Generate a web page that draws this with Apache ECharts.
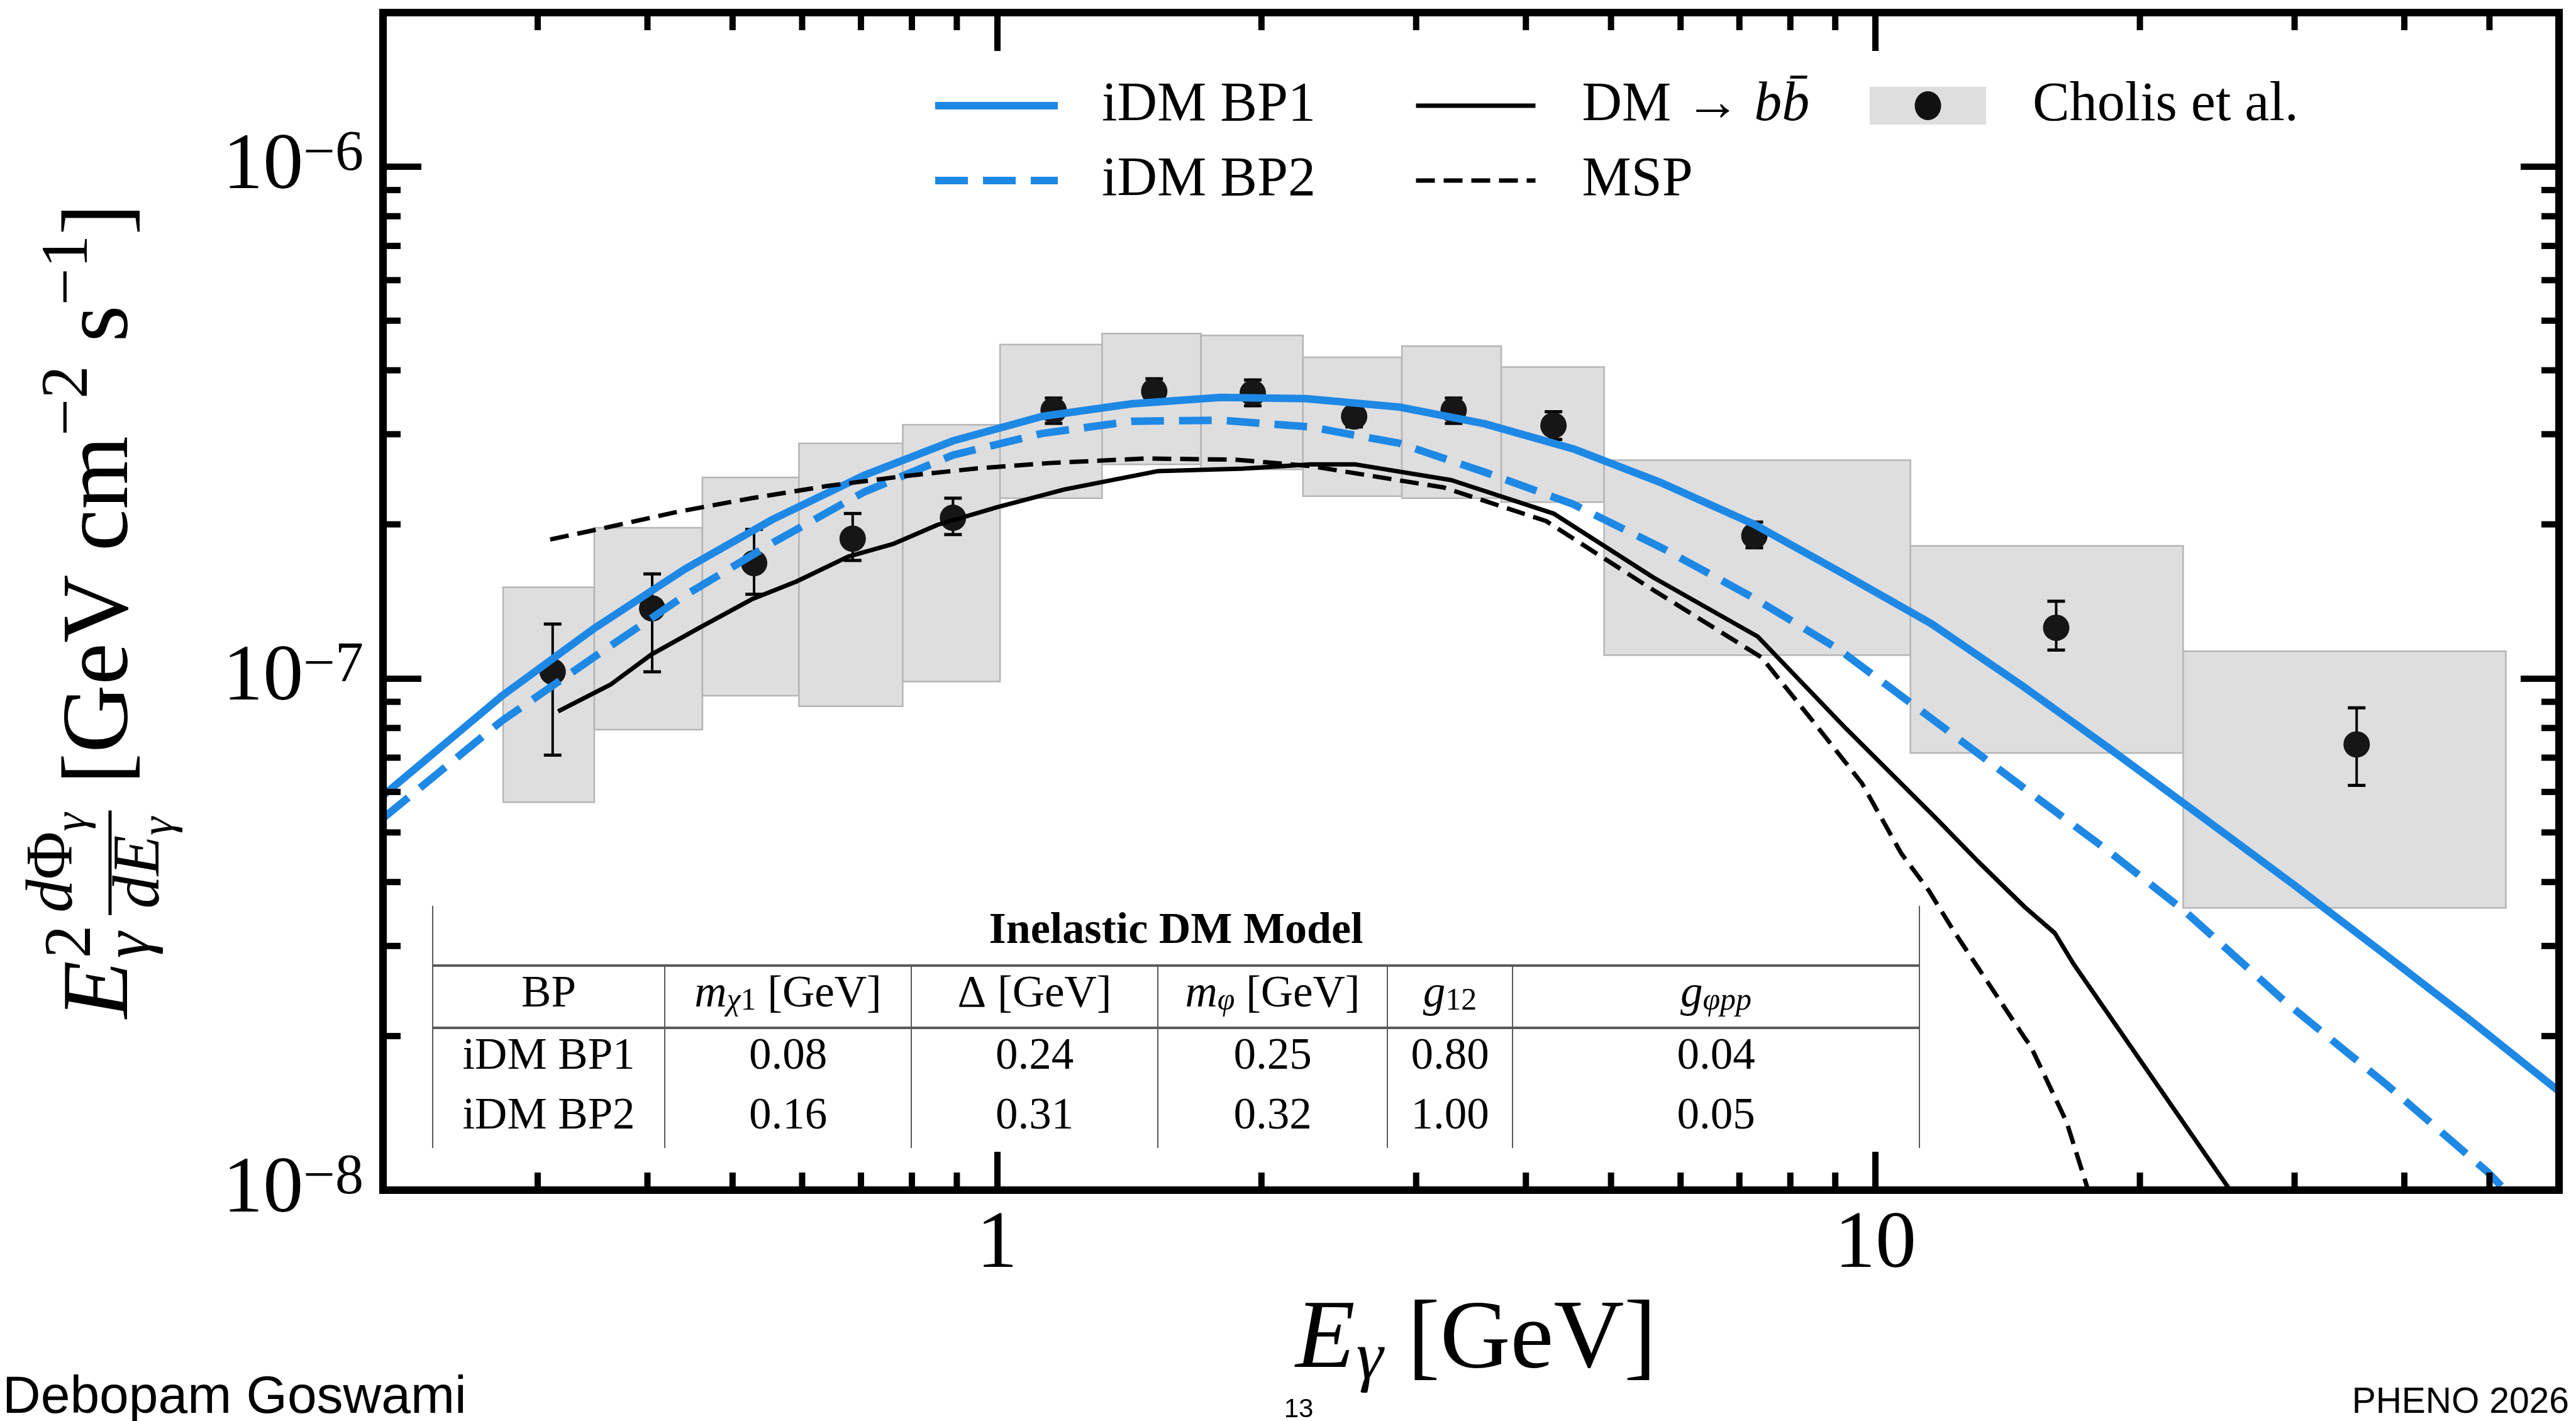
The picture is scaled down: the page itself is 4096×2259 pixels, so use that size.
<!DOCTYPE html>
<html>
<head>
<meta charset="utf-8">
<script src="https://cdn.jsdelivr.net/npm/echarts@6/dist/echarts.min.js"></script>
<style>
html, body { margin: 0; padding: 0; background: #fff; }
#chart { width: 4096px; height: 2259px; }
</style>
</head>
<body>
<div id="chart"></div>
<script>
var SERIF = '"Liberation Serif", "DejaVu Serif", serif';
var SANS = '"Liberation Sans", Arial, sans-serif';
var BB = 'DM \u2192 bb\u0304';

// Cholis et al. points (E in GeV, E^2 dPhi/dE)
var pointE = [0.312, 0.405, 0.529, 0.685, 0.891, 1.16, 1.51, 1.955, 2.55, 3.31, 4.30, 7.28, 16.06, 35.3];
var pointF = [1.03e-7, 1.37e-7, 1.68e-7, 1.875e-7, 2.06e-7, 3.34e-7, 3.64e-7, 3.61e-7, 3.25e-7, 3.34e-7, 3.12e-7, 1.90e-7, 1.256e-7, 7.43e-8];
var errLo = [7.08e-8, 1.03e-7, 1.46e-7, 1.70e-7, 1.91e-7, 3.15e-7, 3.49e-7, 3.41e-7, 3.10e-7, 3.15e-7, 2.93e-7, 1.80e-7, 1.136e-7, 6.18e-8];
var errHi = [1.277e-7, 1.60e-7, 1.955e-7, 2.10e-7, 2.25e-7, 3.53e-7, 3.85e-7, 3.83e-7, 3.37e-7, 3.53e-7, 3.32e-7, 2.02e-7, 1.415e-7, 8.76e-8];
// systematic boxes
var binEdges = [0.274, 0.348, 0.462, 0.595, 0.781, 1.008, 1.317, 1.707, 2.23, 2.89, 3.75, 4.91, 10.96, 22.4, 52.2];
var boxLo = [5.73e-8, 7.94e-8, 9.25e-8, 8.82e-8, 9.86e-8, 2.25e-7, 2.62e-7, 2.56e-7, 2.27e-7, 2.25e-7, 2.21e-7, 1.11e-7, 7.15e-8, 3.56e-8];
var boxHi = [1.507e-7, 1.97e-7, 2.47e-7, 2.88e-7, 3.13e-7, 4.49e-7, 4.72e-7, 4.68e-7, 4.24e-7, 4.46e-7, 4.06e-7, 2.67e-7, 1.815e-7, 1.13e-7];

// model curves
var bp1E = [0.2, 0.2733, 0.3487, 0.4406, 0.5569, 0.7045, 0.890, 1.125, 1.422, 1.797, 2.248, 2.871, 3.589, 4.526, 5.709, 7.275, 9.08, 11.57, 14.75, 18.41, 22.53, 29.89, 37.8, 47.5, 60];
var bp1F = [5.9e-8, 9.25e-8, 1.256e-7, 1.633e-7, 2.05e-7, 2.49e-7, 2.91e-7, 3.25e-7, 3.44e-7, 3.54e-7, 3.52e-7, 3.39e-7, 3.145e-7, 2.81e-7, 2.41e-7, 2.00e-7, 1.62e-7, 1.28e-7, 9.63e-8, 7.32e-8, 5.67e-8, 3.96e-8, 2.91e-8, 2.15e-8, 1.56e-8];
var bp2E = [0.2, 0.2733, 0.3487, 0.4406, 0.5569, 0.7045, 0.890, 1.125, 1.422, 1.797, 2.272, 2.871, 3.589, 4.526, 5.709, 7.275, 9.08, 11.57, 14.75, 18.41, 22.53, 25.68, 29.3, 38.3, 49.9, 53.0];
var bp2F = [5.33e-8, 8.27e-8, 1.104e-7, 1.45e-7, 1.845e-7, 2.31e-7, 2.73e-7, 3.01e-7, 3.18e-7, 3.195e-7, 3.10e-7, 2.88e-7, 2.53e-7, 2.19e-7, 1.80e-7, 1.435e-7, 1.14e-7, 8.36e-8, 6.11e-8, 4.60e-8, 3.50e-8, 2.86e-8, 2.33e-8, 1.60e-8, 1.08e-8, 9.7e-9];
var bbE = [0.3165, 0.363, 0.404, 0.4585, 0.5256, 0.591, 0.677, 0.761, 0.856, 1.0, 1.193, 1.522, 1.905, 2.272, 2.554, 3.29, 4.30, 5.59, 7.34, 9.27, 11.68, 13.1, 14.8, 16.0, 16.8, 26.2];
var bbF = [8.62e-8, 9.72e-8, 1.113e-7, 1.256e-7, 1.427e-7, 1.546e-7, 1.73e-7, 1.83e-7, 1.996e-7, 2.16e-7, 2.34e-7, 2.54e-7, 2.57e-7, 2.62e-7, 2.62e-7, 2.44e-7, 2.10e-7, 1.574e-7, 1.208e-7, 7.96e-8, 5.36e-8, 4.38e-8, 3.57e-8, 3.18e-8, 2.77e-8, 9.2e-9];
var mspE = [0.310, 0.356, 0.4325, 0.5256, 0.639, 0.777, 0.944, 1.147, 1.479, 1.868, 2.272, 3.227, 4.217, 5.59, 7.42, 8.55, 9.65, 10.7, 11.5, 12.29, 14.8, 15.0, 16.5, 17.4, 17.6];
var mspF = [1.868e-7, 1.965e-7, 2.115e-7, 2.25e-7, 2.375e-7, 2.48e-7, 2.57e-7, 2.635e-7, 2.69e-7, 2.675e-7, 2.60e-7, 2.36e-7, 2.03e-7, 1.487e-7, 1.099e-7, 8.12e-8, 6.24e-8, 4.55e-8, 3.85e-8, 3.2e-8, 1.98e-8, 1.92e-8, 1.36e-8, 1.02e-8, 9.5e-9];

// axes
var xMin = 0.2, xMax = 60, yMin = 1e-8, yMax = 2e-6;
var xMinor = [0.3, 0.4, 0.5, 0.6, 0.7, 0.8, 0.9, 2, 3, 4, 5, 6, 7, 8, 9, 20, 30, 40, 50];
var yMinor = [2e-8, 3e-8, 4e-8, 5e-8, 6e-8, 7e-8, 8e-8, 9e-8, 2e-7, 3e-7, 4e-7, 5e-7, 6e-7, 7e-7, 8e-7, 9e-7];

// table
var tableTitle = 'Inelastic DM Model';
var tableHead = ['BP', '{i|m}{sb|\u03c7}{sr|1}{r| [GeV]}', '{r|\u0394 [GeV]}', '{i|m}{sb|\u03c6}{r| [GeV]}', '{i|g}{sr|12}', '{i|g}{sb|\u03c6pp}'];
var tableRows = [
	['iDM BP1', '0.08', '0.24', '0.25', '0.80', '0.04'],
	['iDM BP2', '0.16', '0.31', '0.32', '1.00', '0.05']
];

function zip(a, b) {
	return a.map(function (v, i) { return [v, b[i]]; });
}

var boxData = boxLo.map(function (lo, i) { return [binEdges[i], binEdges[i + 1], lo, boxHi[i]]; });
var errData = pointE.map(function (e, i) { return [e, errLo[i], errHi[i]]; });

var chart = echarts.init(document.getElementById('chart'));

// ---- text helpers for math-like titles
var measure = document.createElement('canvas').getContext('2d');
function fnt(size, it, bold) {
	return (it ? 'italic ' : '') + (bold ? 'bold ' : '') + size + 'px ' + SERIF;
}
function wid(t, size, it) {
	measure.font = fnt(size, it);
	return measure.measureText(t).width;
}
function piece(t, x, base, size, it) {
	return {type: 'text', x: x, y: base - 0.34 * size, style: {text: t, font: fnt(size, it), fill: '#000', align: 'left', verticalAlign: 'middle'}};
}
function runW(list) {
	var w = 0;
	list.forEach(function (p) { w += wid(p[0], p[1], p[2]) + (p[4] || 0); });
	return w;
}
function run(list, x, base, els) {
	list.forEach(function (p) {
		els.push(piece(p[0], x, base + (p[3] || 0), p[1], p[2]));
		x += wid(p[0], p[1], p[2]) + (p[4] || 0);
	});
	return x;
}

// y title: E^2_g dPhi_g/dE_g [GeV cm^-2 s^-1]
var yt = [], S = 150, s = 105, ss = 74;
var cx = run([['E', S, true, 0, 4]], 0, 0, yt);
yt.push(piece('2', cx, -0.42 * S, s, false));
yt.push(piece('\u03b3', cx, 0.2 * S, s, true));
cx += Math.max(wid('2', s, false), wid('\u03b3', s, true)) + 12;
var num = [['d', s, true], ['\u03a6', s, false], ['\u03b3', ss, true, 20]];
var den = [['d', s, true], ['E', s, true], ['\u03b3', ss, true, 20]];
var nw = runW(num), dw = runW(den), fw = Math.max(nw, dw) + 16;
run(num, cx + (fw - nw) / 2, -92, yt);
run(den, cx + (fw - dw) / 2, 46, yt);
yt.push({type: 'line', shape: {x1: cx + 4, y1: -39, x2: cx + fw - 4, y2: -39}, style: {stroke: '#000', lineWidth: 5}});
cx += fw;
run([[' [GeV cm', S, false], ['\u22122', s, false, -0.45 * S], [' s', S, false], ['\u22121', s, false, -0.45 * S], [']', S, false]], cx, 0, yt);

// x title: E_g [GeV]
var xt = [];
var xx = run([['E', 155, true, 0, 2]], 0, 0, xt);
xx = run([['\u03b3', 108, true, 14], [' [GeV]', 155, false]], xx, 0, xt);
var xTitleW = xx;

// table graphics
var tL = 688, tR = 3052, tTop = 1440, tH1 = 1535, tH2 = 1634, tBot = 1825;
var colX = [688, 1057, 1449, 1841, 2206, 2405, 3052];
var rowY = [1680, 1775];
var tg = [];
var gray = '#5a5a5a';
tg.push({type: 'line', shape: {x1: tL, y1: tTop, x2: tL, y2: tBot}, style: {stroke: gray, lineWidth: 2}});
tg.push({type: 'line', shape: {x1: tR, y1: tTop, x2: tR, y2: tBot}, style: {stroke: gray, lineWidth: 2}});
tg.push({type: 'line', shape: {x1: tL, y1: tH1, x2: tR, y2: tH1}, style: {stroke: gray, lineWidth: 4}});
tg.push({type: 'line', shape: {x1: tL, y1: tH2, x2: tR, y2: tH2}, style: {stroke: gray, lineWidth: 4}});
for (var c = 1; c < colX.length - 1; c++) {
	tg.push({type: 'line', shape: {x1: colX[c], y1: tH1, x2: colX[c], y2: tBot}, style: {stroke: gray, lineWidth: 2}});
}
tg.push({type: 'text', x: (tL + tR) / 2, y: 1481, style: {text: tableTitle, font: fnt(70, false, true), fill: '#000', align: 'center', verticalAlign: 'middle'}});
var headRich = {
	r: {fontFamily: SERIF, fontSize: 71, lineHeight: 71, color: '#000'},
	i: {fontFamily: SERIF, fontSize: 71, lineHeight: 71, fontStyle: 'italic', color: '#000'},
	sb: {fontFamily: SERIF, fontSize: 50, lineHeight: 27, fontStyle: 'italic', verticalAlign: 'bottom', color: '#000'},
	sr: {fontFamily: SERIF, fontSize: 50, lineHeight: 27, verticalAlign: 'bottom', color: '#000'}
};
tableHead.forEach(function (h, j) {
	tg.push({type: 'text', x: (colX[j] + colX[j + 1]) / 2, y: 1581, style: {text: h, rich: headRich, font: fnt(71), fill: '#000', align: 'center', verticalAlign: 'middle'}});
});
tableRows.forEach(function (row, r) {
	row.forEach(function (v, j) {
		tg.push({type: 'text', x: (colX[j] + colX[j + 1]) / 2, y: rowY[r], style: {text: v, font: fnt(71), fill: '#000', align: 'center', verticalAlign: 'middle'}});
	});
});

// ---- render helpers
function renderBox(params, api) {
	var p0 = api.coord([api.value(0), api.value(3)]);
	var p1 = api.coord([api.value(1), api.value(2)]);
	return {type: 'rect', shape: {x: p0[0], y: p0[1], width: p1[0] - p0[0], height: p1[1] - p0[1]},
		style: {fill: '#dedede', stroke: '#b5b5b5', lineWidth: 2.5}};
}
function renderErr(params, api) {
	var lo = api.coord([api.value(0), api.value(1)]);
	var hi = api.coord([api.value(0), api.value(2)]);
	var cw = 14, st = {stroke: '#000', lineWidth: 5};
	return {type: 'group', children: [
		{type: 'line', shape: {x1: lo[0], y1: lo[1], x2: hi[0], y2: hi[1]}, style: {stroke: '#000', lineWidth: 4}},
		{type: 'line', shape: {x1: lo[0] - cw, y1: lo[1], x2: lo[0] + cw, y2: lo[1]}, style: st},
		{type: 'line', shape: {x1: hi[0] - cw, y1: hi[1], x2: hi[0] + cw, y2: hi[1]}, style: st}
	]};
}
function renderXTick(params, api) {
	var cs = params.coordSys, px = api.coord([api.value(0), yMin])[0], len = 28;
	var st = {stroke: '#000', lineWidth: 10};
	return {type: 'group', children: [
		{type: 'line', shape: {x1: px, y1: cs.y + cs.height, x2: px, y2: cs.y + cs.height - len}, style: st},
		{type: 'line', shape: {x1: px, y1: cs.y, x2: px, y2: cs.y + len}, style: st}
	]};
}
function renderYTick(params, api) {
	var cs = params.coordSys, py = api.coord([xMin, api.value(1)])[1], len = 28;
	var st = {stroke: '#000', lineWidth: 10};
	return {type: 'group', children: [
		{type: 'line', shape: {x1: cs.x, y1: py, x2: cs.x + len, y2: py}, style: st},
		{type: 'line', shape: {x1: cs.x + cs.width, y1: py, x2: cs.x + cs.width - len, y2: py}, style: st}
	]};
}

function isPow10(v) {
	var l = Math.log10(v);
	return Math.abs(l - Math.round(l)) < 1e-6;
}

function axisCommon(pos) {
	return {
		position: pos, z: 10,
		axisLine: {show: true, onZero: false, lineStyle: {color: '#000', width: 12, cap: 'square'}},
		axisTick: {show: true, inside: true, length: 61, lineStyle: {color: '#000', width: 10}},
		minorTick: {show: false},
		splitLine: {show: false}
	};
}

var xBottom = Object.assign({type: 'log', logBase: 10, min: xMin, max: xMax}, axisCommon('bottom'), {
	axisLabel: {margin: 23, color: '#000', fontFamily: SERIF, fontSize: 130,
		formatter: function (v) { return isPow10(v) ? String(Math.round(v)) : ''; }}
});
var xTop = Object.assign({type: 'log', logBase: 10, min: xMin, max: xMax}, axisCommon('top'), {axisLabel: {show: false}});
var yLeft = Object.assign({type: 'log', logBase: 10, min: yMin, max: yMax}, axisCommon('left'), {
	axisLabel: {margin: 31, color: '#000',
		formatter: function (v) {
			if (!isPow10(v)) return '';
			return '{b|10}{s|\u2212' + (-Math.round(Math.log10(v))) + '}';
		},
		rich: {
			b: {fontFamily: SERIF, fontSize: 128, lineHeight: 128, color: '#000'},
			s: {fontFamily: SERIF, fontSize: 90, lineHeight: 64, verticalAlign: 'top', color: '#000'}
		}}
});
var yRight = Object.assign({type: 'log', logBase: 10, min: yMin, max: yMax}, axisCommon('right'), {axisLabel: {show: false}});

function legendText(gap) {
	return {
		color: '#000', fontFamily: SERIF, fontSize: 88, lineHeight: 100, padding: [0, 0, 0, gap],
		rich: {
			r: {color: '#000', fontFamily: SERIF, fontSize: 88, lineHeight: 100},
			i: {color: '#000', fontFamily: SERIF, fontSize: 88, lineHeight: 100, fontStyle: 'italic'}
		}
	};
}

var cholisIcon = 'image://data:image/svg+xml;charset=utf-8,' + encodeURIComponent(
	'<svg xmlns="http://www.w3.org/2000/svg" width="185" height="61" viewBox="0 0 185 61">' +
	'<rect x="0" y="0" width="185" height="61" fill="#dedede"/>' +
	'<ellipse cx="92.5" cy="30.5" rx="21" ry="23" fill="#111"/></svg>');

var option = {
	animation: false,
	backgroundColor: '#fff',
	grid: {left: 609, top: 20, width: 3460, height: 1872, containLabel: false},
	xAxis: [xBottom, xTop],
	yAxis: [yLeft, yRight],
	legend: [
		{data: ['iDM BP1', 'iDM BP2'], left: 1481, top: 118, orient: 'vertical', padding: 0,
		 itemWidth: 195, itemHeight: 61, itemGap: 19, selectedMode: false, textStyle: legendText(65),
		 itemStyle: {opacity: 0}, lineStyle: {width: 12}},
		{data: [BB, 'MSP'], left: 2248, top: 118, orient: 'vertical', padding: 0,
		 itemWidth: 190, itemHeight: 61, itemGap: 19, selectedMode: false, textStyle: legendText(69),
		 itemStyle: {opacity: 0}, lineStyle: {width: 7},
		 formatter: function (name) { return name === BB ? '{r|DM \u2192 }{i|bb\u0304}' : name; }},
		{data: [{name: 'Cholis et al.', icon: cholisIcon}], left: 2973, top: 118, orient: 'vertical', padding: 0,
		 itemWidth: 185, itemHeight: 61, selectedMode: false, textStyle: legendText(69)}
	],
	series: [
		{type: 'custom', renderItem: renderBox, data: boxData, z: 1, silent: true},
		{type: 'custom', renderItem: renderErr, data: errData, z: 3, silent: true},
		{name: 'Cholis et al.', type: 'scatter', data: zip(pointE, pointF), symbol: 'circle', symbolSize: 42,
		 itemStyle: {color: '#161616', opacity: 1}, z: 3},
		{name: 'iDM BP1', type: 'line', data: zip(bp1E, bp1F), symbol: 'none', z: 4,
		 lineStyle: {color: '#1e88e5', width: 12}, itemStyle: {color: '#1e88e5'}},
		{name: 'iDM BP2', type: 'line', data: zip(bp2E, bp2F), symbol: 'none', z: 4,
		 lineStyle: {color: '#1e88e5', width: 12, type: [52, 24]}, itemStyle: {color: '#1e88e5'}},
		{name: BB, type: 'line', data: zip(bbE, bbF), symbol: 'none', z: 4,
		 lineStyle: {color: '#000', width: 7}, itemStyle: {color: '#000'}},
		{name: 'MSP', type: 'line', data: zip(mspE, mspF), symbol: 'none', z: 4,
		 lineStyle: {color: '#000', width: 7, type: [30, 14]}, itemStyle: {color: '#000'}},
		{type: 'custom', renderItem: renderXTick, data: xMinor.map(function (v) { return [v, 1e-7]; }), z: 9, silent: true},
		{type: 'custom', renderItem: renderYTick, data: yMinor.map(function (v) { return [1, v]; }), z: 9, silent: true}
	],
	graphic: [
		{type: 'group', x: 214, y: 1619, rotation: Math.PI / 2, children: yt},
		{type: 'group', x: 2347 - xTitleW / 2, y: 2185, children: xt},
		{type: 'group', children: tg},
		{type: 'text', x: 4, y: 2252 - 0.35 * 84, style: {text: 'Debopam Goswami', font: '84px ' + SANS, fill: '#000', align: 'left', verticalAlign: 'middle'}},
		{type: 'text', x: 2065, y: 2256 - 0.35 * 42, style: {text: '13', font: '42px ' + SANS, fill: '#000', align: 'center', verticalAlign: 'middle'}},
		{type: 'text', x: 4085, y: 2250 - 0.35 * 57, style: {text: 'PHENO 2026', font: '57px ' + SANS, fill: '#000', align: 'right', verticalAlign: 'middle'}}
	]
};

chart.setOption(option);
</script>
</body>
</html>
